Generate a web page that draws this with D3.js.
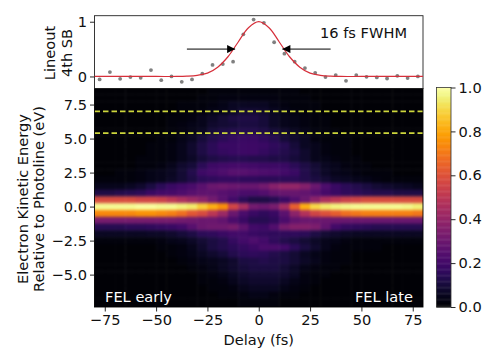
<!DOCTYPE html>
<html>
<head>
<meta charset="utf-8">
<style>
    html, body { margin: 0; padding: 0; background: #fff; }
    svg { display: block; }
    text { font-family: "DejaVu Sans", sans-serif; }
</style>
<script src="https://cdn.jsdelivr.net/npm/d3@7"></script>
</head>
<body>
<div id="chart"></div>
<script>
// column centres of the scan (fs), also the lineout points
const delays = [-77.5, -72.5, -67.5, -62.5, -57.5, -52.5, -47.5, -42.5, -37.5, -32.5, -27.5, -22.5, -17.5, -12.5, -7.5, -2.5,
    2.5, 7.5, 12.5, 17.5, 22.5, 27.5, 32.5, 37.5, 42.5, 47.5, 52.5, 57.5, 62.5, 67.5, 72.5, 77.5]

const lineout = [-0.055, 0.08, -0.043, -0.012, -0.025, 0.117, -0.067, 0, -0.098, -0.055, 0.05, 0.21, 0.227, 0.27, 0.77, 1.04,
    0.98, 0.625, 0.417, 0.27, 0.153, 0.067, -0.012, 0.025, -0.08, 0.025, -0.006, -0.018, -0.037, 0.012, -0.03, 0]

// fitted curve
const fitDelays = [-80, -50, -40, -35, -30, -25, -20, -15, -10, -5, 0, 5, 10, 15, 20, 25, 30, 35, 40, 50, 80]
const fitValues = [0, 0, 0, 0.005, 0.02, 0.06, 0.17, 0.36, 0.63, 0.89, 1, 0.89, 0.63, 0.36, 0.17, 0.06, 0.02, 0.005, 0, 0, 0]

// row centres (eV)
const energies = [8.5, 8, 7.5, 7, 6.5, 6, 5.5, 5, 4.5, 4, 3.5, 3, 2.5, 2, 1.5, 1, 0.5, 0,
    -0.5, -1, -1.5, -2, -2.5, -3, -3.5, -4, -4.5, -5, -5.5, -6, -6.5, -7]

// intensity in percent, one row per energy
const heat = [
    [1, 1, 1, 1, 1, 1, 1, 1, 1, 1, 1, 2, 2, 2, 2, 2, 2, 2, 2, 2, 1, 1, 1, 1, 1, 1, 1, 1, 1, 1, 1, 1],
    [1, 1, 1, 1, 1, 1, 1, 1, 1, 1, 2, 2, 3, 3, 3, 3, 3, 3, 2, 2, 2, 1, 1, 1, 1, 1, 1, 1, 1, 1, 1, 1],
    [1, 1, 1, 1, 1, 1, 1, 1, 2, 2, 2, 3, 4, 6, 6, 6, 6, 4, 3, 2, 2, 2, 1, 1, 1, 1, 1, 1, 1, 1, 1, 1],
    [1, 1, 1, 1, 1, 1, 1, 1, 2, 2, 3, 4, 5, 7, 9, 9, 8, 6, 4, 3, 2, 2, 1, 1, 1, 1, 1, 1, 1, 1, 1, 1],
    [1, 1, 1, 1, 1, 1, 1, 2, 2, 3, 5, 7, 9, 11, 12, 12, 10, 7, 5, 4, 3, 2, 2, 1, 1, 1, 1, 1, 1, 1, 1, 1],
    [1, 1, 1, 1, 1, 1, 1, 2, 3, 4, 5, 8, 9, 10, 11, 11, 10, 7, 5, 4, 3, 2, 2, 1, 1, 1, 1, 1, 1, 1, 1, 1],
    [1, 1, 1, 1, 1, 1, 1, 2, 3, 4, 6, 10, 12, 13, 13, 13, 12, 10, 8, 6, 4, 3, 2, 2, 1, 1, 1, 1, 1, 1, 1, 1],
    [1, 1, 1, 1, 1, 1, 2, 2, 4, 6, 10, 13, 15, 17, 18, 18, 16, 14, 10, 8, 6, 3, 2, 2, 2, 1, 1, 1, 1, 1, 1, 1],
    [1, 1, 1, 1, 1, 2, 2, 3, 5, 8, 12, 15, 18, 18, 19, 19, 18, 16, 14, 10, 6, 5, 3, 2, 2, 1, 1, 1, 1, 1, 1, 1],
    [1, 1, 1, 1, 1, 2, 2, 3, 5, 8, 12, 15, 17, 18, 19, 19, 17, 15, 13, 11, 8, 5, 3, 2, 2, 1, 1, 1, 1, 1, 1, 1],
    [1, 1, 1, 1, 2, 2, 2, 3, 5, 7, 10, 12, 13, 14, 14, 13, 13, 12, 12, 10, 8, 5, 4, 3, 2, 2, 1, 1, 1, 1, 1, 1],
    [1, 1, 1, 1, 2, 2, 3, 5, 8, 10, 15, 19, 20, 21, 21, 20, 19, 19, 18, 15, 12, 9, 6, 5, 3, 2, 2, 1, 1, 1, 1, 1],
    [1, 1, 2, 2, 3, 4, 5, 6, 9, 13, 19, 21, 23, 25, 25, 24, 23, 22, 20, 18, 13, 10, 7, 5, 4, 3, 2, 2, 2, 1, 1, 1],
    [2, 2, 2, 2, 3, 4, 5, 7, 9, 12, 15, 16, 17, 17, 16, 16, 15, 15, 15, 15, 13, 11, 9, 7, 6, 5, 4, 3, 2, 2, 2, 2],
    [5, 5, 5, 6, 8, 11, 15, 18, 20, 22, 26, 30, 31, 30, 29, 29, 32, 37, 40, 40, 36, 30, 23, 18, 15, 13, 11, 9, 8, 7, 6, 5],
    [12, 12, 13, 14, 15, 18, 20, 21, 23, 25, 27, 27, 25, 24, 22, 22, 24, 28, 29, 29, 28, 25, 21, 18, 16, 15, 14, 13, 13, 12, 12, 12],
    [58, 58, 58, 58, 56, 56, 54, 50, 46, 42, 38, 32, 26, 20, 15, 12, 12, 14, 18, 24, 30, 38, 46, 50, 54, 56, 58, 58, 58, 58, 58, 58],
    [98, 98, 98, 98, 99, 99, 98, 98, 96, 94, 88, 82, 75, 56, 45, 32, 30, 33, 44, 64, 82, 90, 94, 96, 97, 98, 98, 98, 98, 98, 97, 95],
    [74, 74, 74, 74, 76, 76, 74, 72, 68, 62, 58, 50, 42, 30, 22, 18, 16, 18, 26, 38, 48, 56, 60, 64, 68, 70, 72, 72, 72, 72, 72, 70],
    [33, 33, 33, 33, 33, 33, 33, 33, 32, 31, 30, 30, 28, 22, 18, 14, 14, 16, 22, 28, 30, 30, 30, 30, 30, 30, 30, 30, 30, 30, 30, 30],
    [14, 14, 14, 15, 15, 16, 17, 18, 20, 25, 30, 31, 31, 33, 27, 20, 19, 24, 33, 36, 36, 34, 28, 20, 17, 16, 15, 14, 14, 14, 14, 14],
    [6, 6, 6, 6, 6, 7, 7, 8, 10, 12, 15, 16, 18, 20, 20, 18, 17, 16, 16, 16, 15, 12, 9, 8, 7, 6, 6, 6, 6, 6, 6, 6],
    [2, 2, 2, 2, 2, 2, 3, 4, 5, 7, 9, 11, 13, 17, 20, 23, 20, 16, 13, 11, 9, 7, 5, 4, 3, 2, 2, 2, 2, 2, 2, 2],
    [1, 1, 1, 1, 1, 1, 2, 2, 3, 5, 8, 11, 13, 15, 17, 19, 22, 22, 20, 15, 11, 8, 5, 3, 2, 2, 2, 2, 1, 1, 1, 1],
    [1, 1, 1, 1, 1, 1, 1, 2, 3, 4, 6, 8, 10, 13, 15, 16, 15, 13, 11, 9, 6, 4, 3, 2, 2, 1, 1, 1, 1, 1, 1, 1],
    [1, 1, 1, 1, 1, 1, 1, 1, 2, 3, 4, 5, 6, 8, 11, 12, 13, 12, 11, 9, 7, 5, 3, 2, 2, 1, 1, 1, 1, 1, 1, 1],
    [1, 1, 1, 1, 1, 1, 1, 1, 1, 2, 3, 4, 6, 8, 10, 11, 11, 11, 9, 7, 4, 3, 2, 2, 1, 1, 1, 1, 1, 1, 1, 1],
    [1, 1, 1, 1, 1, 1, 1, 1, 1, 1, 2, 3, 4, 6, 8, 9, 9, 9, 8, 6, 3, 2, 2, 1, 1, 1, 1, 1, 1, 1, 1, 1],
    [1, 1, 1, 1, 1, 1, 1, 1, 1, 1, 2, 2, 3, 5, 7, 8, 8, 8, 6, 4, 3, 2, 1, 1, 1, 1, 1, 1, 1, 1, 1, 1],
    [1, 1, 1, 1, 1, 1, 1, 1, 1, 1, 1, 2, 2, 3, 5, 6, 6, 6, 4, 3, 2, 1, 1, 1, 1, 1, 1, 1, 1, 1, 1, 1],
    [1, 1, 1, 1, 1, 1, 1, 1, 1, 1, 1, 1, 2, 2, 3, 4, 4, 3, 2, 2, 1, 1, 1, 1, 1, 1, 1, 1, 1, 1, 1, 1],
    [1, 1, 1, 1, 1, 1, 1, 1, 1, 1, 1, 1, 1, 1, 2, 2, 2, 2, 1, 1, 1, 1, 1, 1, 1, 1, 1, 1, 1, 1, 1, 1]
]

const delayTicks = [-75, -50, -25, 0, 25, 50, 75]
const energyTicks = [7.5, 5, 2.5, 0, -2.5, -5]
const lineoutTicks = [0, 1]
const colorTicks = [0, 0.2, 0.4, 0.6, 0.8, 1]
const dashedEnergies = [7, 5.4]
const fwhmEdges = [-11.5, 11.5]
const arrowTails = [-35, 35]
const arrowLevel = 0.5

const width = 485
const height = 363
const fontSize = 14.6
const cellDelay = 5
const cellEnergy = 0.5

const left = 94.5, right = 423
const topPanel = { top: 15.7, bottom: 88.5 }
const heatPanel = { top: 88.5, bottom: 307 }
const barPanel = { left: 436.5, right: 451, top: 87.5, bottom: 307 }

const svg = d3.select("#chart").append("svg")
    .attr("width", width)
    .attr("height", height)
    .attr("viewBox", [0, 0, width, height])

// Scales
const x = d3.scaleLinear().domain([-80, 80]).range([left, right])
const yTop = d3.scaleLinear().domain([-0.22, 1.11]).range([topPanel.bottom, topPanel.top])
const yHeat = d3.scaleLinear().domain([8.68, -7.38]).range([heatPanel.top, heatPanel.bottom])
const color = d3.scaleSequential(d3.interpolateInferno).domain([0, 1])
const yBar = d3.scaleLinear().domain([0, 1]).range([barPanel.bottom, barPanel.top])

const defs = svg.append("defs")
defs.append("clipPath").attr("id", "heat-clip").append("rect")
    .attr("x", left).attr("y", heatPanel.top)
    .attr("width", right - left).attr("height", heatPanel.bottom - heatPanel.top)
defs.append("filter").attr("id", "soften")
    .attr("filterUnits", "userSpaceOnUse")
    .attr("color-interpolation-filters", "sRGB")
    .attr("x", 0).attr("y", 0).attr("width", width).attr("height", height)
    .append("feGaussianBlur").attr("stdDeviation", "1.2 1.7")
defs.append("marker").attr("id", "head")
    .attr("viewBox", "0 0 8 8").attr("refX", 8).attr("refY", 4)
    .attr("markerWidth", 9).attr("markerHeight", 8)
    .attr("markerUnits", "userSpaceOnUse").attr("orient", "auto")
    .append("path").attr("d", "M0,0L8,4L0,8Z").attr("fill", "#000")

// Heatmap, edge cells run past the frame so the blur doesn't fade there
const cells = heat.flatMap((row, r) => row.map((v, c) => ({ r, c, v })))
svg.append("g").attr("clip-path", "url(#heat-clip)")
    .append("g").attr("filter", "url(#soften)")
    .selectAll("rect")
    .data(cells)
    .join("rect")
    .attr("x", d => x(delays[d.c] - cellDelay / 2) - (d.c === 0 ? 12 : 0))
    .attr("width", d => x(cellDelay) - x(0) + (d.c === 0 || d.c === delays.length - 1 ? 12 : 0) + 0.5)
    .attr("y", d => yHeat(energies[d.r] + cellEnergy / 2) - (d.r === 0 ? 12 : 0))
    .attr("height", d => yHeat(0) - yHeat(cellEnergy) + (d.r === 0 || d.r === energies.length - 1 ? 12 : 0) + 0.5)
    .attr("fill", d => color(d.v / 100))

svg.append("g")
    .selectAll("line")
    .data(dashedEnergies)
    .join("line")
    .attr("x1", left).attr("x2", right)
    .attr("y1", d => yHeat(d)).attr("y2", d => yHeat(d))
    .attr("stroke", "#cdd63c")
    .attr("stroke-width", 1.6)
    .attr("stroke-dasharray", "5.5,3")

svg.append("rect")
    .attr("x", left).attr("y", heatPanel.top)
    .attr("width", right - left).attr("height", heatPanel.bottom - heatPanel.top)
    .attr("fill", "none").attr("stroke", "#000").attr("stroke-width", 0.9)

svg.append("text").attr("x", 105).attr("y", 302)
    .attr("font-size", fontSize).attr("fill", "#fff").text("FEL early")
svg.append("text").attr("x", 413).attr("y", 302).attr("text-anchor", "end")
    .attr("font-size", fontSize).attr("fill", "#fff").text("FEL late")

// Lineout panel
svg.append("rect")
    .attr("x", left).attr("y", topPanel.top)
    .attr("width", right - left).attr("height", topPanel.bottom - topPanel.top)
    .attr("fill", "none").attr("stroke", "#222").attr("stroke-width", 0.9)

const fitLine = d3.line()
    .curve(d3.curveCatmullRom)
    .x((d, i) => x(fitDelays[i]))
    .y(d => yTop(d))

svg.append("g")
    .selectAll("circle")
    .data(lineout)
    .join("circle")
    .attr("cx", (d, i) => x(delays[i]))
    .attr("cy", d => yTop(d))
    .attr("r", 1.9)
    .attr("fill", "#808080")

svg.append("path")
    .attr("d", fitLine(fitValues))
    .attr("fill", "none")
    .attr("stroke", "#d62f3a")
    .attr("stroke-width", 1.2)

svg.append("g")
    .selectAll("line")
    .data(fwhmEdges)
    .join("line")
    .attr("x1", (d, i) => x(arrowTails[i]))
    .attr("x2", d => x(d))
    .attr("y1", yTop(arrowLevel)).attr("y2", yTop(arrowLevel))
    .attr("stroke", "#000")
    .attr("stroke-width", 1)
    .attr("marker-end", "url(#head)")

svg.append("text").attr("x", 320).attr("y", 38)
    .attr("font-size", fontSize).attr("fill", "#111").text("16 fs FWHM")

// Colorbar
const barSteps = d3.range(0, 256)
svg.append("g")
    .selectAll("rect")
    .data(barSteps)
    .join("rect")
    .attr("x", barPanel.left)
    .attr("width", barPanel.right - barPanel.left)
    .attr("y", d => yBar((d + 1) / 256))
    .attr("height", d => yBar(d / 256) - yBar((d + 1) / 256) + 0.5)
    .attr("fill", d => color(d / 255))
svg.append("rect")
    .attr("x", barPanel.left).attr("y", barPanel.top)
    .attr("width", barPanel.right - barPanel.left).attr("height", barPanel.bottom - barPanel.top)
    .attr("fill", "none").attr("stroke", "#333").attr("stroke-width", 0.8)

// Axes
function styleAxis(g) {
    g.select(".domain").remove()
    g.selectAll("text").attr("font-size", fontSize).attr("font-family", '"DejaVu Sans"').attr("fill", "#111")
    g.selectAll("line").attr("stroke", "#111").attr("stroke-width", 0.9)
}

svg.append("g")
    .attr("transform", `translate(0,${heatPanel.bottom})`)
    .call(d3.axisBottom(x).tickValues(delayTicks).tickFormat(d3.format("d")).tickSize(4.5).tickPadding(3))
    .call(styleAxis)

svg.append("g")
    .attr("transform", `translate(${left},0)`)
    .call(d3.axisLeft(yHeat).tickValues(energyTicks).tickFormat(d3.format(".1f")).tickSize(4.5).tickPadding(3))
    .call(styleAxis)

svg.append("g")
    .attr("transform", `translate(${left},0)`)
    .call(d3.axisLeft(yTop).tickValues(lineoutTicks).tickFormat(d3.format("d")).tickSize(4.5).tickPadding(3))
    .call(styleAxis)

svg.append("g")
    .attr("transform", `translate(${barPanel.right},0)`)
    .call(d3.axisRight(yBar).tickValues(colorTicks).tickFormat(d3.format(".1f")).tickSize(4.5).tickPadding(3))
    .call(styleAxis)

// Axis labels
svg.append("text")
    .attr("x", x(0)).attr("y", 345)
    .attr("text-anchor", "middle")
    .attr("font-size", fontSize).attr("fill", "#111")
    .text("Delay (fs)")

function rotatedLabel(cx, cy, label) {
    svg.append("text")
        .attr("transform", `translate(${cx},${cy}) rotate(-90)`)
        .attr("text-anchor", "middle")
        .attr("dominant-baseline", "central")
        .attr("font-size", fontSize).attr("fill", "#111")
        .text(label)
}
rotatedLabel(49, 53, "Lineout")
rotatedLabel(66, 53, "4th SB")
rotatedLabel(22, 199, "Electron Kinetic Energy")
rotatedLabel(38, 199, "Relative to Photoline (eV)")
</script>
</body>
</html>
